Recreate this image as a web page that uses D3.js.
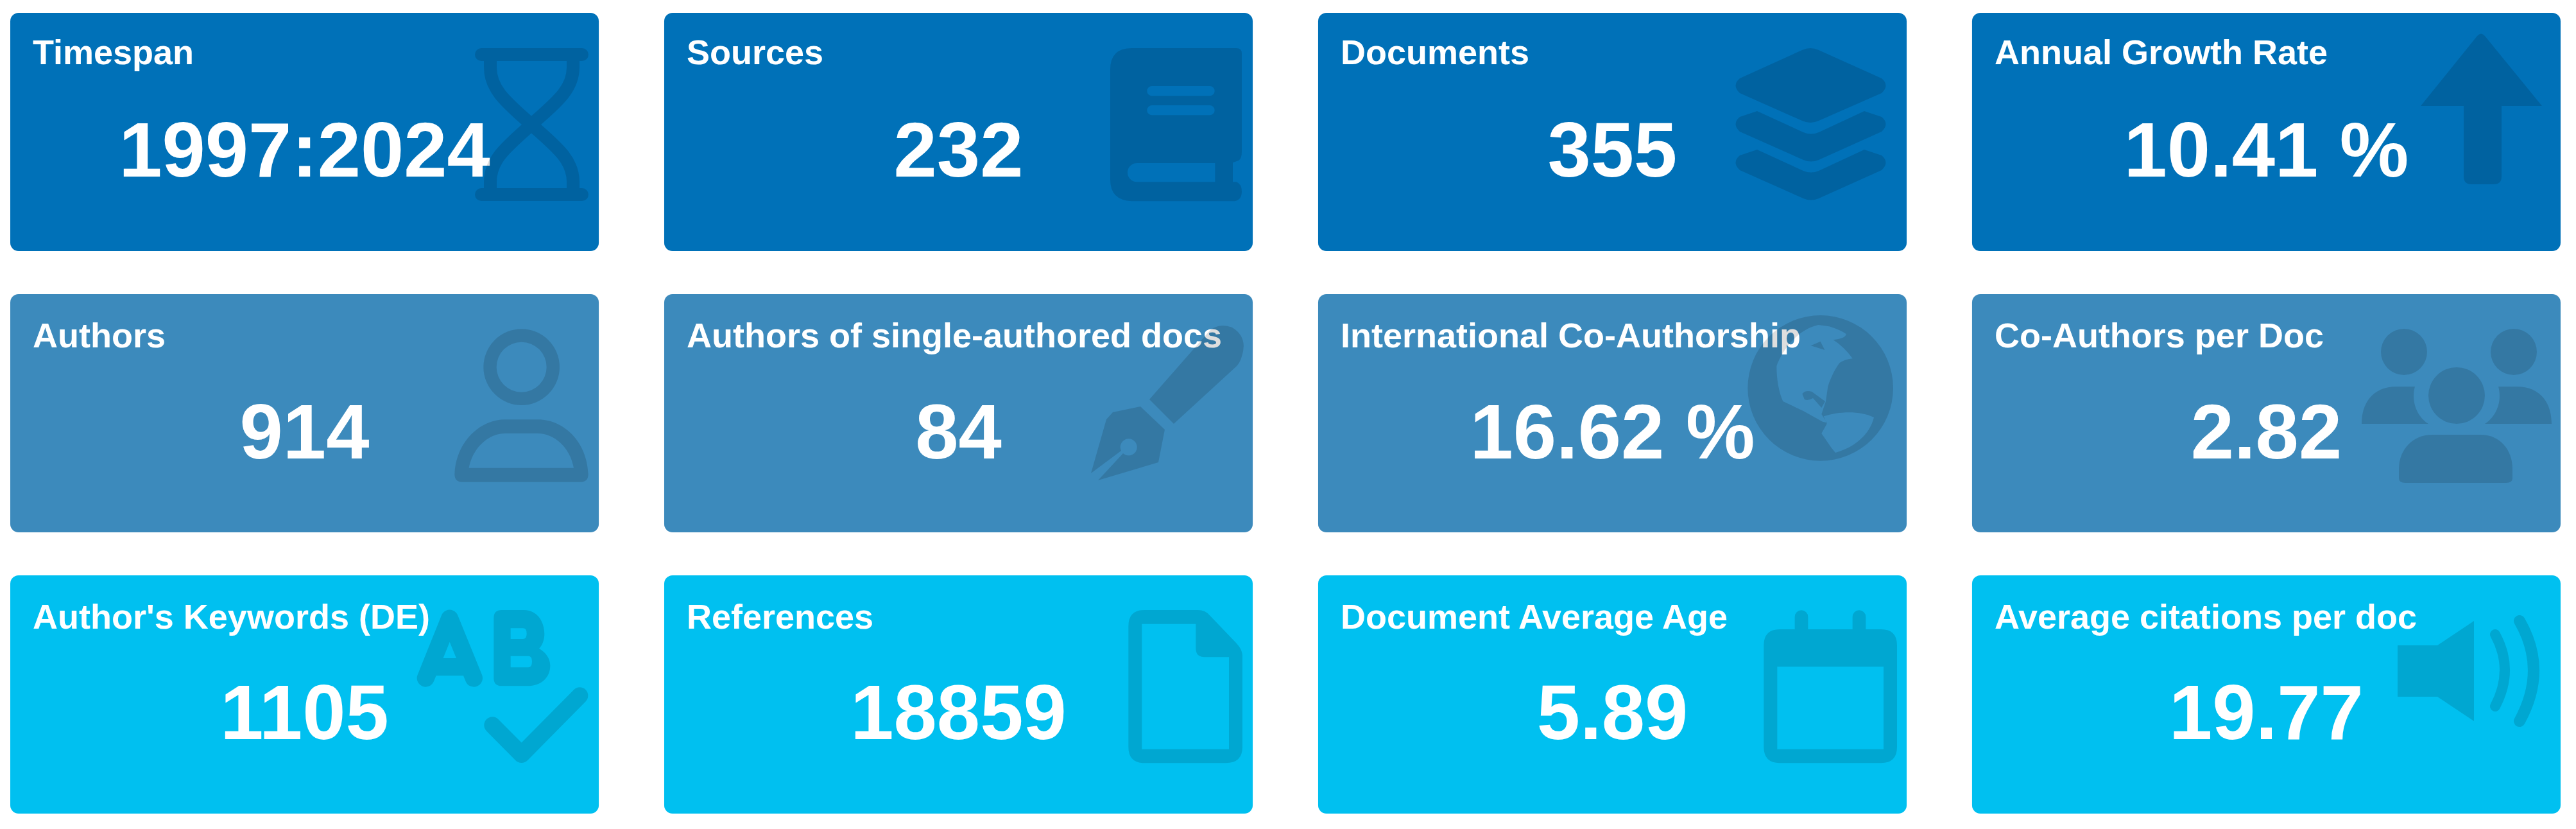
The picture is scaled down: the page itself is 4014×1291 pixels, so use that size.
<!DOCTYPE html>
<html>
<head>
<meta charset="utf-8">
<style>html,body{margin:0;padding:0;background:#fff}svg{display:block}</style>
<script src="https://cdn.jsdelivr.net/npm/d3@7"></script>
</head>
<body>
<svg id="c" width="4014" height="1291"></svg>
<script>
const titles = ["Timespan","Sources","Documents","Annual Growth Rate",
  "Authors","Authors of single-authored docs","International Co-Authorship","Co-Authors per Doc",
  "Author's Keywords (DE)","References","Document Average Age","Average citations per doc"];
const values = ["1997:2024","232","355","10.41 %","914","84","16.62 %","2.82","1105","18859","5.89","19.77"];
const rowColors = ["#0071b8","#3c8abc","#00c0f0"];

// decorative glyphs: t = [x,y,scale], parts = [path, strokeWidth]
const glyphs = [
 {t:[0,0,1],parts:[["M750,85H907M750,303H907M764,95V105C764,140 790,160 828,194C866,228 893,248 893,283V293M893,95V105C893,140 866,160 828,194C790,228 764,248 764,283V293",20]]},
 {t:[1700,50,1/3],parts:[["M190,75H680Q705,75 705,100V560Q705,590 690,600L663,610V700H680Q705,710 705,745Q705,785 670,790H190Q90,785 90,690V175Q90,75 190,75ZM285,252H555A23,23 0 0 1 555,298H285A23,23 0 0 1 285,252ZM285,342H555A23,23 0 0 1 555,388H285A23,23 0 0 1 285,342ZM215,612H580V700H215A44,44 0 0 1 215,612Z",0]]},
 {t:[0,0,1],parts:[["M2808,78Q2821,72 2834,78L2932,122Q2945,133 2932,145L2834,188Q2821,194 2808,188L2711,145Q2698,133 2711,122Z",0],
   ["M2738,173L2810,206Q2822,211 2834,206L2905,173L2932,182Q2945,193 2932,205L2834,249Q2822,254 2810,249L2711,205Q2698,193 2711,182Z",0],
   ["M2738,233L2810,266Q2822,271 2834,266L2905,233L2932,242Q2945,253 2932,265L2834,309Q2822,314 2810,309L2711,265Q2698,253 2711,242Z",0]]},
 {t:[0,0,1],parts:[["M3860,56Q3866,49 3872,56L3961,165H3898V275Q3898,287 3886,287H3851Q3839,287 3839,275V165H3772Z",0]]},
 {t:[690,490,1/3],parts:[["M190,245A178,178 0 1 1 546,245A178,178 0 1 1 190,245ZM251,245A117,117 0 1 0 485,245A117,117 0 1 0 251,245Z",0],
   ["M55,745C60,600 170,490 290,490H445C570,490 675,600 680,745Q680,782 645,782H90Q55,782 55,745ZM122,716H612C595,620 520,555 445,555H290C215,555 140,620 122,716Z",0]]},
 {t:[0,0,1],parts:[["M1791,622L1885,515Q1900,502 1920,510Q1945,525 1935,555Q1932,566 1925,572L1829,660Z",0],
   ["M1734,642L1777,633L1815,669L1805,720L1711,748L1750,706A13,13 0 1 0 1747,702L1700,737L1724,653Z",0]]},
 {t:[2700,470,1/3],parts:[["M70,403A340,340 0 1 1 750,403A340,340 0 1 1 70,403ZM205,300C230,230 300,130 400,108L450,115Q500,130 530,150Q530,170 470,178Q520,210 560,265Q520,270 500,285C480,310 460,350 445,395L435,465L415,525L440,565L420,560L330,510L235,465C215,420 205,360 205,300ZM325,430Q340,410 370,420L432,465L415,495L375,450Q350,465 335,455ZM365,205L410,185L430,225ZM425,535C500,510 600,510 660,540C640,620 570,680 480,705L460,680L415,615L440,570Z",0]]},
 {t:[0,0,1],parts:[["M3710,548A36,36 0 1 1 3782,548A36,36 0 1 1 3710,548ZM3881,548A36,36 0 1 1 3953,548A36,36 0 1 1 3881,548ZM3784,616A44,44 0 1 1 3872,616A44,44 0 1 1 3784,616Z",0],
   ["M3680,660C3680,630 3695,602 3735,602H3763C3758,620 3762,645 3784,660ZM3976,660C3976,630 3961,602 3921,602H3893C3898,620 3894,645 3872,660Z",0],
   ["M3738,745V730C3738,700 3760,677 3790,677H3865C3895,677 3915,700 3915,730V745Q3915,752 3905,752H3748Q3738,752 3738,745Z",0]]},
 {t:[630,930,1/3],parts:[["M100,378L212,100L325,378M140,326H285",82],
   ["M455,60H560C625,60 655,120 655,170C655,200 645,225 630,240C665,260 682,290 682,320C682,375 640,415 575,415H455Q418,415 418,378V97Q418,60 455,60ZM497,145H555Q572,145 572,170Q572,195 555,195H497ZM497,275H580Q597,275 597,300Q597,328 580,328H497Z",0],
   ["M412,598L548,735L820,460",78]]},
 {t:[1720,930,1/3],parts:[["M190,60H440Q475,60 495,85L620,215Q648,245 648,275V700Q648,775 570,775H190Q115,775 115,700V135Q115,60 190,60ZM178,125H430V240Q430,280 470,280H585V710H178Z",0]]},
 {t:[2730,930,1/3],parts:[["M130,150H603Q678,150 678,225V700Q678,775 603,775H130Q55,775 55,700V225Q55,150 130,150ZM118,325V710H615V325Z",0],
   ["M200,150V92A31,31 0 0 1 262,92V150ZM470,150V92A31,31 0 0 1 532,92V150Z",0]]},
 {t:[0,0,1],parts:[["M3736,1005H3798L3855,967V1123L3798,1085H3736Z",0],
   ["M3888,988Q3918,1043 3888,1100",16],["M3926,967Q3970,1043 3926,1123",18]]}
];

const COLS = 4, ROWS = 3;
const x = d3.scaleBand().domain(d3.range(COLS)).range([16,3990]).paddingInner(0.1).paddingOuter(0);
const y = d3.scaleBand().domain(d3.range(ROWS)).range([20,1267]).paddingInner(0.153).paddingOuter(0);
const titleBase = d3.scaleOrdinal().domain(d3.range(ROWS)).range([100,541,979]);
const valueBase = d3.scaleOrdinal().domain(d3.range(ROWS)).range([275,714,1151]);

const cards = titles.map((t,i)=>({title:t,value:values[i],col:i%COLS,row:Math.floor(i/COLS),glyph:glyphs[i]}));
const svg = d3.select("#c");
const font = "'Liberation Sans',Arial,sans-serif";

svg.selectAll("rect.card").data(cards).join("rect").attr("class","card")
  .attr("x",d=>x(d.col)).attr("y",d=>y(d.row))
  .attr("width",x.bandwidth()).attr("height",y.bandwidth())
  .attr("rx",13).attr("fill",d=>rowColors[d.row]);

svg.selectAll("text.title").data(cards).join("text").attr("class","title")
  .attr("x",d=>x(d.col)+35).attr("y",d=>titleBase(d.row))
  .attr("font-family",font).attr("font-weight",700).attr("font-size",54).attr("fill","#fff")
  .text(d=>d.title);

svg.selectAll("text.value").data(cards).join("text").attr("class","value")
  .attr("x",d=>x(d.col)+x.bandwidth()/2).attr("y",d=>valueBase(d.row))
  .attr("text-anchor","middle")
  .attr("font-family",font).attr("font-weight",700).attr("font-size",121).attr("fill","#fff")
  .text(d=>d.value);

const g = svg.selectAll("g.icon").data(cards).join("g").attr("class","icon")
  .attr("transform",d=>`translate(${d.glyph.t[0]},${d.glyph.t[1]}) scale(${d.glyph.t[2]})`);
g.selectAll("path").data(d=>d.glyph.parts).join("path")
  .attr("d",d=>d[0])
  .attr("fill",d=>d[1]>0?"none":"#000").attr("fill-rule","evenodd")
  .attr("stroke",d=>d[1]>0?"#000":"none").attr("stroke-width",d=>d[1])
  .attr("stroke-linecap","round").attr("stroke-linejoin","round")
  .attr("opacity",0.13);
</script>
</body>
</html>
